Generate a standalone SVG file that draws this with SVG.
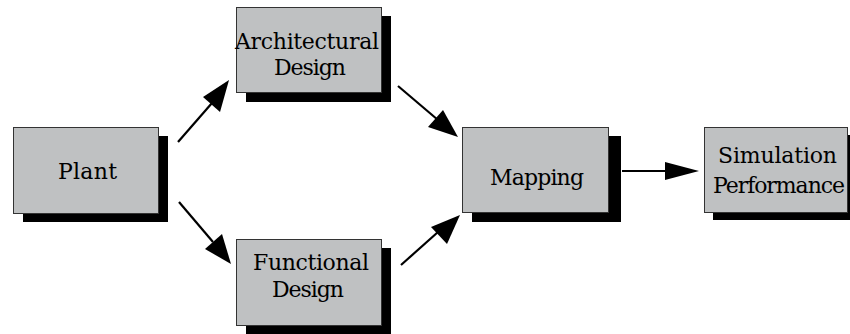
<svg xmlns="http://www.w3.org/2000/svg" width="850" height="334" viewBox="0 0 850 334">
<style>
.shadow{fill:#000}
.box{fill:#bfc1c2;stroke:#333;stroke-width:1}
.lbl{font-family:"DejaVu Serif","Liberation Serif",serif;font-size:22px;fill:#000;text-anchor:middle}
.edge{stroke:#000;stroke-width:2.2;fill:none}
.head{fill:#000}
</style>
<rect width="850" height="334" fill="#fff"/>
<g id="node-plant">
<rect class="shadow" x="23" y="136" width="145" height="86"/>
<rect class="box" x="13.5" y="127.5" width="145" height="86"/>
<text class="lbl" x="87.5" y="179" textLength="59">Plant</text>
</g>
<g id="node-arch">
<rect class="shadow" x="246" y="16" width="145" height="86"/>
<rect class="box" x="236.5" y="7.5" width="145" height="85"/>
<text class="lbl" x="307" y="49" textLength="144">Architectural</text>
<text class="lbl" x="310" y="75" textLength="72">Design</text>
</g>
<g id="node-func">
<rect class="shadow" x="246" y="248" width="145" height="86"/>
<rect class="box" x="236.5" y="239.5" width="145" height="86"/>
<text class="lbl" x="311" y="270" textLength="116">Functional</text>
<text class="lbl" x="308" y="297" textLength="72">Design</text>
</g>
<g id="node-mapping">
<rect class="shadow" x="472" y="136" width="149" height="86"/>
<rect class="box" x="462.5" y="127.5" width="146" height="85"/>
<text class="lbl" x="537" y="185" textLength="94">Mapping</text>
</g>
<g id="node-sim">
<rect class="shadow" x="713" y="135" width="140" height="85"/>
<rect class="box" x="704.5" y="127.5" width="143" height="85"/>
<text class="lbl" x="777.5" y="163" textLength="119">Simulation</text>
<text class="lbl" x="779" y="193" textLength="132">Performance</text>
</g>
<g id="connectors">
<line class="edge" x1="178" y1="142" x2="212" y2="103"/>
<polygon class="head" points="229,80 220,112 203,97"/>
<line class="edge" x1="179" y1="202" x2="213" y2="242"/>
<polygon class="head" points="231,264 205,249 222,234"/>
<line class="edge" x1="398" y1="86" x2="438" y2="120"/>
<polygon class="head" points="458,137 428,127 443,110"/>
<line class="edge" x1="401" y1="265" x2="438" y2="232"/>
<polygon class="head" points="460,215 447,244 431,227"/>
<line class="edge" x1="622" y1="171" x2="670" y2="171"/>
<polygon class="head" points="699,171 665,162 665,180"/>
</g>
</svg>
